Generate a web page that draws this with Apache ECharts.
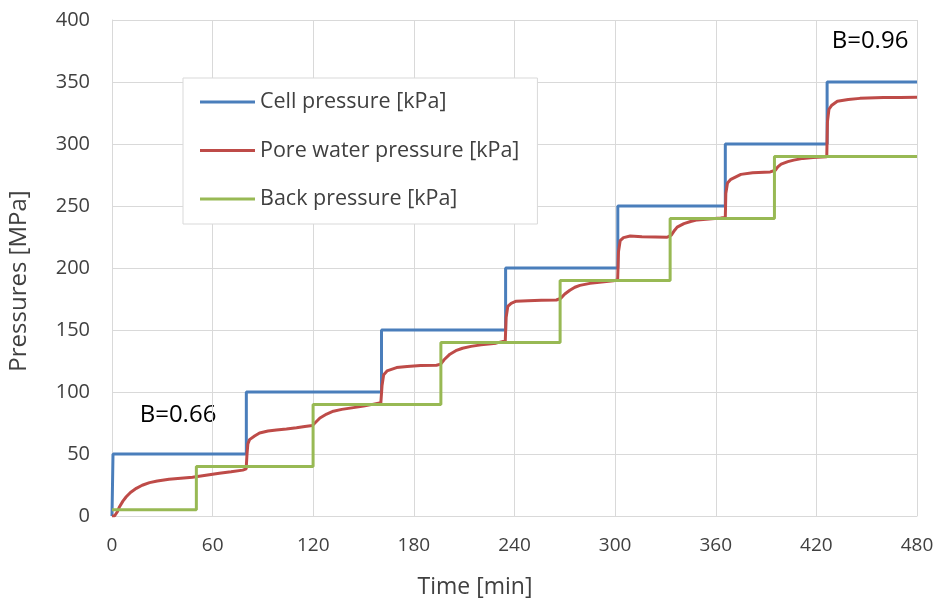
<!DOCTYPE html>
<html>
<head>
<meta charset="utf-8">
<script src="https://cdn.jsdelivr.net/npm/echarts@6/dist/echarts.min.js"></script>
<style>
  html, body { margin: 0; padding: 0; background: #fff; }
  #chart { width: 939px; height: 601px; }
</style>
</head>
<body>
<div id="chart"></div>
<script>
// Axis ticks
const timeTicks = [0, 60, 120, 180, 240, 300, 360, 420, 480];
const pressureTicks = [0, 50, 100, 150, 200, 250, 300, 350, 400];

// Cell pressure [kPa] : [time min, value]
const cellPressure = [
  [0, 0], [0.6, 50], [61, 50], [61.5, 51], [62, 50], [80.1, 50],
  [80.1, 100], [160.7, 100],
  [160.7, 150], [222, 150], [222.5, 151], [223, 150], [234.7, 150],
  [234.7, 200], [276, 200], [276.5, 201], [277, 200], [301.6, 200],
  [301.6, 250], [358, 250], [358.5, 251], [359, 250], [365.7, 250],
  [365.7, 300], [426.4, 300],
  [426.4, 350], [480, 350]
];

// Pore water pressure [kPa]
const porePressure = [
  [0, 0], [1.5, 0], [3, 3], [4.5, 7.5], [6.5, 12], [8.5, 15.5], [11, 19],
  [14.5, 22.3], [18, 24.8], [22.4, 26.9], [27, 28.2], [34, 29.6], [41, 30.4],
  [48, 31.2], [52, 32.0], [56, 32.8], [64, 34.4], [71, 35.6], [78, 37.0], [80, 38],
  [80.5, 50], [81, 58], [82, 61.6], [85, 64.5], [88, 67], [93, 68.5], [98, 69.4],
  [104, 70.2], [110, 71.2], [115, 72.2], [119.5, 73],
  [121, 75], [124, 79], [128, 82.2], [132, 84.5], [137, 86], [142, 87], [150, 88.6],
  [156, 90.2], [160.3, 91.3],
  [161, 105], [162, 114], [164, 117], [169.7, 119.7], [176, 120.6], [184, 121.3],
  [193.5, 121.6], [196, 122.5],
  [198, 126], [201.5, 130.5], [205, 133.3], [209, 135.3], [214, 136.8], [220, 138],
  [229, 139.4], [234.5, 141.2],
  [235, 160], [236, 169], [238, 171.5], [241, 173.2], [248, 173.6], [256, 174], [265, 174.2],
  [267.5, 175.5], [270, 179], [273, 182], [276, 184.5], [279, 186], [285, 187.6],
  [292, 188.8], [299, 189.8], [301.5, 190.3],
  [302, 213], [303, 222], [305, 224.5], [309, 225.8], [316, 225.2], [324, 225], [331, 224.8],
  [333.5, 226.5], [335.5, 230.5], [337, 233], [341, 235.8], [345, 237.5], [349, 238.8],
  [356, 239.6], [363, 240.3], [365.7, 240.8],
  [366, 260], [367, 268.5], [369, 271.5], [375, 275.5], [382, 276.8], [392.5, 277.5],
  [395.5, 278.8], [397, 281.5], [399, 283.8], [403, 285.8], [406.5, 287], [412, 288.4],
  [418, 289.2], [426.2, 289.8],
  [426.6, 318], [427.5, 328], [429, 331], [432.5, 334.5], [439, 335.8], [446, 336.8],
  [460, 337.5], [470, 337.6], [480, 337.8]
];

// Back pressure [kPa]
const backPressure = [
  [0, 5], [50.3, 5], [50.3, 40], [119.9, 40], [119.9, 90], [196.1, 90],
  [196.1, 140], [267.2, 140], [267.2, 190], [332.8, 190], [332.8, 240],
  [395, 240], [395, 290], [480, 290]
];

const seriesNames = ['Cell pressure [kPa]', 'Pore water pressure [kPa]', 'Back pressure [kPa]'];
const seriesColors = ['#4a7ebb', '#be4b48', '#98b954'];
const seriesData = [cellPressure, porePressure, backPressure];

const FONT = '"Open Sans", "Noto Sans", sans-serif';
const gridColor = '#d9d9d9';
const textColor = '#404040';

const chart = echarts.init(document.getElementById('chart'), null, { renderer: 'canvas' });

chart.setOption({
  animation: false,
  backgroundColor: '#ffffff',
  grid: { left: 112, right: 22, top: 20, bottom: 85 },
  xAxis: {
    type: 'value',
    min: timeTicks[0],
    max: timeTicks[timeTicks.length - 1],
    interval: 60,
    axisLine: { show: true, lineStyle: { color: gridColor, width: 1 } },
    axisTick: { show: false },
    splitLine: { show: true, lineStyle: { color: gridColor, width: 1 } },
    axisLabel: { color: textColor, fontSize: 19, fontFamily: FONT, margin: 20 }
  },
  yAxis: {
    type: 'value',
    min: pressureTicks[0],
    max: pressureTicks[pressureTicks.length - 1],
    interval: 50,
    axisLine: { show: true, lineStyle: { color: gridColor, width: 1 } },
    axisTick: { show: false },
    splitLine: { show: true, lineStyle: { color: gridColor, width: 1 } },
    axisLabel: { color: textColor, fontSize: 20, fontFamily: FONT, margin: 22 }
  },
  legend: {
    orient: 'vertical',
    left: 183,
    top: 78,
    padding: [13, 18, 14, 17],
    itemGap: 26.5,
    itemWidth: 55,
    itemHeight: 3,
    icon: 'rect',
    backgroundColor: '#ffffff',
    borderColor: gridColor,
    borderWidth: 1,
    textStyle: { color: textColor, fontSize: 21.5, fontFamily: FONT },
    data: seriesNames
  },
  series: seriesNames.map((name, i) => ({
    name: name,
    type: 'line',
    data: seriesData[i],
    showSymbol: false,
    symbol: 'none',
    smooth: false,
    z: i === 2 ? 3 : (i === 1 ? 2 : 1),
    lineStyle: { color: seriesColors[i], width: 3 },
    itemStyle: { color: seriesColors[i] }
  })),
  graphic: [
    {
      type: 'text',
      x: 19, y: 281,
      rotation: Math.PI / 2,
      style: {
        text: 'Pressures [MPa]',
        font: '24px ' + FONT,
        fill: textColor,
        textAlign: 'center',
        textVerticalAlign: 'middle'
      }
    },
    {
      type: 'text',
      x: 475, y: 587,
      style: {
        text: 'Time [min]',
        font: '23px ' + FONT,
        fill: textColor,
        textAlign: 'center',
        textVerticalAlign: 'middle'
      }
    },
    {
      type: 'text',
      x: 178, y: 415,
      style: {
        text: 'B=0.66',
        font: '24px ' + FONT,
        fill: '#000000',
        textAlign: 'center',
        textVerticalAlign: 'middle'
      }
    },
    {
      type: 'text',
      x: 870, y: 41,
      style: {
        text: 'B=0.96',
        font: '24px ' + FONT,
        fill: '#000000',
        textAlign: 'center',
        textVerticalAlign: 'middle'
      }
    }
  ]
});
</script>
</body>
</html>
